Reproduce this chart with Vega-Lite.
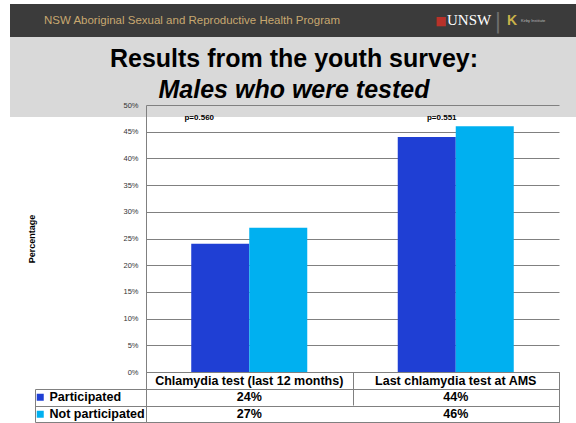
{
  "$schema": "https://vega.github.io/schema/vega-lite/v6.json",
  "padding": {"left": 10, "top": 4, "right": 0, "bottom": 0},
  "autosize": {"type": "pad"},
  "background": "#ffffff",
  "columns": 2,
  "spacing": 0,
  "bounds": "flush",
  "datasets": {
    "results": [
      {"test": "Chlamydia test (last 12 months)", "group": "Participated", "pct": 0.24},
      {"test": "Chlamydia test (last 12 months)", "group": "Not participated", "pct": 0.27},
      {"test": "Last chlamydia test at AMS", "group": "Participated", "pct": 0.44},
      {"test": "Last chlamydia test at AMS", "group": "Not participated", "pct": 0.46}
    ],
    "pvalues": [
      {"test": "Chlamydia test (last 12 months)", "label": "p=0.560"},
      {"test": "Last chlamydia test at AMS", "label": "p=0.551"}
    ],
    "none": []
  },
  "concat": [
    {
      "width": 136, "height": 33,
      "view": {"fill": "#3b3b3b", "stroke": null},
      "data": {"name": "none"},
      "mark": "point"
    },
    {
      "width": 430, "height": 33,
      "view": {"fill": "#3b3b3b", "stroke": null},
      "title": {
        "text": "NSW Aboriginal Sexual and Reproductive Health Program",
        "anchor": "start", "dx": -102, "offset": -22,
        "fontSize": 11.5, "fontWeight": "normal", "color": "#c8a870", "font": "Liberation Sans"
      },
      "layer": [
        {
          "data": {"values": [{"part": "crest"}]},
          "mark": {"type": "text", "text": "■", "font": "DejaVu Sans", "fontSize": 12, "color": "#b8322a", "dx": 80, "baseline": "middle"},
          "encoding": {}
        },
        {
          "data": {"values": [{"part": "name"}]},
          "mark": {"type": "text", "text": "UNSW", "font": "Liberation Sans Narrow", "fontSize": 15, "color": "#ffffff", "align": "left", "dx": 86, "dy": -1, "baseline": "middle"},
          "encoding": {}
        },
        {
          "data": {"values": [{"part": "divider"}]},
          "mark": {"type": "text", "text": "|", "font": "DejaVu Sans", "fontSize": 22, "color": "#6e6e6e", "dx": 137, "baseline": "middle"},
          "encoding": {}
        },
        {
          "data": {"values": [{"part": "k"}]},
          "mark": {"type": "text", "text": "K", "font": "Liberation Sans", "fontWeight": "bold", "fontSize": 14, "color": "#c9b24a", "align": "left", "dx": 146, "baseline": "middle"},
          "encoding": {}
        },
        {
          "data": {"values": [{"part": "kirby"}]},
          "mark": {"type": "text", "text": "Kirby Institute", "font": "Liberation Sans", "fontSize": 4, "color": "#bbbbbb", "align": "left", "dx": 160, "baseline": "middle"},
          "encoding": {}
        }
      ]
    },
    {
      "width": 136, "height": 80,
      "view": {"fill": "#d9d9d9", "stroke": null},
      "data": {"name": "none"},
      "mark": "point"
    },
    {
      "width": 430, "height": 80,
      "view": {"fill": "#d9d9d9", "stroke": null},
      "title": {
        "text": "Results from the youth survey:",
        "subtitle": "Males who were tested",
        "anchor": "middle", "dx": -67, "offset": -66,
        "fontSize": 25, "fontWeight": "bold", "color": "#000000", "font": "Liberation Sans",
        "subtitleFontSize": 25, "subtitleFontWeight": "bold", "subtitleFontStyle": "italic",
        "subtitleColor": "#000000", "subtitleFont": "Liberation Sans", "subtitlePadding": 6
      },
      "data": {"name": "none"},
      "mark": "point"
    },
    {
      "width": 136, "height": 255,
      "data": {"name": "none"},
      "mark": "point"
    },
    {
      "width": 413, "height": 255,
      "layer": [
        {
          "data": {"name": "results"},
          "mark": {"type": "bar"},
          "encoding": {
            "x": {
              "field": "test", "type": "nominal",
              "scale": {"domain": ["Chlamydia test (last 12 months)", "Last chlamydia test at AMS"], "paddingInner": 0, "paddingOuter": 0},
              "axis": {
                "title": null, "domain": false, "ticks": false, "tickSize": 0, "grid": false,
                "labelAngle": 0, "labelPadding": 8.5, "labelBaseline": "middle", "labelLimit": 0,
                "labelFont": "Liberation Sans", "labelFontSize": 12.5, "labelFontWeight": "bold", "labelColor": "#000000"
              }
            },
            "xOffset": {
              "field": "group", "type": "nominal", "sort": ["Participated", "Not participated"],
              "scale": {"paddingInner": 0, "paddingOuter": 0.78}
            },
            "y": {
              "field": "pct", "type": "quantitative",
              "scale": {"domain": [0, 0.5], "range": [255, -12], "nice": false, "zero": true},
              "axis": {
                "title": "Percentage", "titleFont": "Liberation Sans", "titleFontSize": 9, "titleFontWeight": "bold",
                "titleColor": "#000000", "titlePadding": 86,
                "format": ".0%", "values": [0, 0.05, 0.1, 0.15, 0.2, 0.25, 0.3, 0.35, 0.4, 0.45, 0.5],
                "tickCount": 11, "labelOverlap": false,
                "labelFont": "Liberation Sans", "labelFontSize": 7.5, "labelColor": "#333333", "labelPadding": 8,
                "ticks": false, "tickSize": 0,
                "domainColor": "#808080", "grid": true, "gridColor": "#808080", "gridWidth": 1
              }
            },
            "color": {
              "field": "group", "type": "nominal", "sort": ["Participated", "Not participated"],
              "scale": {"domain": ["Participated", "Not participated"], "range": ["#1f3fd4", "#00b0f0"]},
              "legend": {
                "orient": "none", "legendX": 24, "legendY": 385, "title": null, "padding": 0,
                "symbolType": "square", "symbolSize": 49, "symbolStrokeWidth": 0,
                "labelFont": "Liberation Sans", "labelFontSize": 12.5, "labelFontWeight": "bold", "labelColor": "#000000",
                "labelOffset": 3, "clipHeight": 16.5, "rowPadding": 0
              }
            }
          }
        },
        {
          "data": {"name": "pvalues"},
          "transform": [{"filter": "datum.test === 'Chlamydia test (last 12 months)'"}],
          "mark": {"type": "text", "dx": -50, "font": "Liberation Sans", "fontSize": 8, "fontWeight": "bold", "color": "#000000"},
          "encoding": {
            "x": {"field": "test", "type": "nominal"},
            "y": {"datum": 0.475, "type": "quantitative"},
            "text": {"field": "label"}
          }
        },
        {
          "data": {"name": "pvalues"},
          "transform": [{"filter": "datum.test === 'Last chlamydia test at AMS'"}],
          "mark": {"type": "text", "dx": -14, "font": "Liberation Sans", "fontSize": 8, "fontWeight": "bold", "color": "#000000"},
          "encoding": {
            "x": {"field": "test", "type": "nominal"},
            "y": {"datum": 0.475, "type": "quantitative"},
            "text": {"field": "label"}
          }
        }
      ]
    },
    {
      "width": 136, "height": 50,
      "data": {"name": "results"},
      "mark": {"type": "point", "opacity": 0},
      "encoding": {
        "y": {
          "field": "group", "type": "nominal",
          "scale": {"domain": ["Participated", "Not participated"], "range": [17, 50], "paddingInner": 0, "paddingOuter": 0},
          "axis": {"title": null, "labels": false, "ticks": false, "grid": false, "domain": true, "domainColor": "#808080", "offset": -25}
        }
      }
    },
    {
      "width": 413, "height": 50,
      "view": {"stroke": "#808080", "strokeWidth": 1},
      "data": {"name": "results"},
      "mark": {"type": "text", "font": "Liberation Sans", "fontSize": 12.5, "fontWeight": "bold", "color": "#000000"},
      "encoding": {
        "x": {
          "field": "test", "type": "nominal",
          "scale": {"domain": ["Chlamydia test (last 12 months)", "Last chlamydia test at AMS"], "paddingInner": 0, "paddingOuter": 0},
          "axis": {"title": null, "labels": false, "ticks": false, "domain": false, "grid": true, "tickBand": "extent", "gridColor": "#808080"}
        },
        "y": {
          "field": "group", "type": "nominal",
          "scale": {"domain": ["Participated", "Not participated"], "range": [17, 50], "paddingInner": 0, "paddingOuter": 0},
          "axis": {
            "title": null, "labels": false, "domain": false,
            "ticks": true, "tickSize": 111, "tickBand": "extent", "tickColor": "#808080",
            "grid": true, "gridColor": "#808080"
          }
        },
        "text": {"field": "pct", "type": "quantitative", "format": ".0%"}
      }
    }
  ],
  "config": {
    "view": {"stroke": null},
    "font": "Liberation Sans"
  }
}
